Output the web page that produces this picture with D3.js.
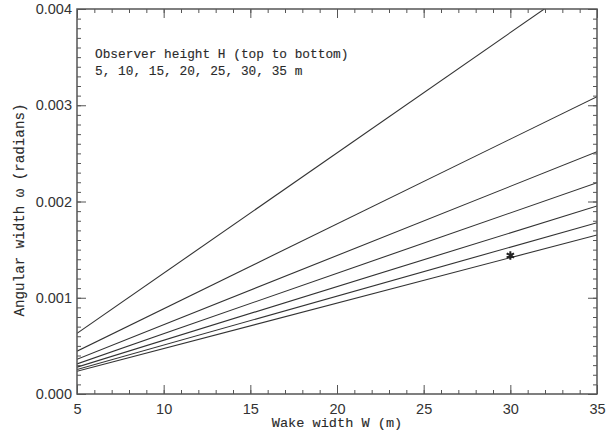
<!DOCTYPE html>
<html>
<head>
<meta charset="utf-8">
<script src="https://cdn.jsdelivr.net/npm/d3@7"></script>
<style>
  body { margin: 0; background: #fff; }
  .tick text { font-family: "Liberation Sans", Arial, sans-serif; font-size: 14.5px; fill: #333; }
  .mono { font-family: "Liberation Mono", "DejaVu Sans Mono", monospace; fill: #2a2a2a; stroke: #2a2a2a; stroke-width: 0.12px; }
</style>
</head>
<body>
<div id="chart"></div>
<script>
var heights = [5, 10, 15, 20, 25, 30, 35];
var omegaAtW5 = [0.000630, 0.000445, 0.000360, 0.000313, 0.000279, 0.000254, 0.000236];
var omegaAtW35 = [0.004380, 0.003089, 0.002517, 0.002195, 0.001953, 0.001780, 0.001652];
var wakeEnds = [5, 35];

// the single measured point
var starPoint = [{ w: 30, omega: 0.00144 }];

var xTicks = [5, 10, 15, 20, 25, 30, 35];
var yTicks = [0.000, 0.001, 0.002, 0.003, 0.004];

function main() {
    var W = 611, H = 433;
    var margin = { top: 9, right: 14, bottom: 39, left: 77 };
    var width = W - margin.left - margin.right;
    var height = H - margin.top - margin.bottom;

    var svg = d3.select("#chart").append("svg")
        .attr("width", W)
        .attr("height", H);

    var g = svg.append("g")
        .attr("transform", `translate(${margin.left}, ${margin.top})`);

    var xScale = d3.scaleLinear().domain([5, 35]).range([0, width]);
    var yScale = d3.scaleLinear().domain([0, 0.004]).range([height, 0]);

    g.append("clipPath").attr("id", "plotclip")
        .append("rect").attr("width", width).attr("height", height);

    // the lines, one per observer height
    var lineData = heights.map(function(h, i) {
        return [
            { w: wakeEnds[0], omega: omegaAtW5[i] },
            { w: wakeEnds[1], omega: omegaAtW35[i] }
        ];
    });
    var line = d3.line()
        .x(function(d) { return xScale(d.w); })
        .y(function(d) { return yScale(d.omega); });

    g.append("g").attr("clip-path", "url(#plotclip)")
        .selectAll("path")
        .data(lineData)
        .enter()
        .append("path")
        .attr("d", line)
        .attr("fill", "none")
        .attr("stroke", "#333")
        .attr("stroke-width", 1.1);

    // star marker
    g.selectAll(".star")
        .data(starPoint)
        .enter()
        .append("path")
        .attr("class", "star")
        .attr("transform", function(d) { return `translate(${xScale(d.w)}, ${yScale(d.omega)})`; })
        .attr("d", d3.symbol().type(d3.symbolAsterisk).size(50))
        .attr("fill", "none")
        .attr("stroke", "#222")
        .attr("stroke-width", 2);

    // axes: major ticks plus minor ticks, all pointing inward, mirrored on top/right
    var xMinor = d3.range(5, 35.001, 1);
    var yMinor = d3.range(0, 0.0040001, 0.0001);
    var axisColor = "#555";

    function styleAxis(sel) {
        sel.select(".domain").remove();
        sel.selectAll(".tick line").attr("stroke", axisColor);
    }

    g.append("g").attr("class", "axis")
        .attr("transform", `translate(0, ${height})`)
        .call(d3.axisBottom(xScale).tickValues(xTicks).tickSize(-9).tickPadding(10).tickFormat(d3.format("d")))
        .call(styleAxis);
    g.append("g")
        .attr("transform", `translate(0, ${height})`)
        .call(d3.axisBottom(xScale).tickValues(xMinor).tickSize(-4).tickFormat(""))
        .call(styleAxis);
    g.append("g")
        .call(d3.axisTop(xScale).tickValues(xTicks).tickSize(-9).tickFormat(""))
        .call(styleAxis);
    g.append("g")
        .call(d3.axisTop(xScale).tickValues(xMinor).tickSize(-4).tickFormat(""))
        .call(styleAxis);

    g.append("g").attr("class", "axis")
        .call(d3.axisLeft(yScale).tickValues(yTicks).tickSize(-9).tickPadding(5).tickFormat(d3.format(".3f")))
        .call(styleAxis);
    g.append("g")
        .call(d3.axisLeft(yScale).tickValues(yMinor).tickSize(-4).tickFormat(""))
        .call(styleAxis);
    g.append("g")
        .attr("transform", `translate(${width}, 0)`)
        .call(d3.axisRight(yScale).tickValues(yTicks).tickSize(-9).tickFormat(""))
        .call(styleAxis);
    g.append("g")
        .attr("transform", `translate(${width}, 0)`)
        .call(d3.axisRight(yScale).tickValues(yMinor).tickSize(-4).tickFormat(""))
        .call(styleAxis);

    // frame
    g.append("rect")
        .attr("width", width)
        .attr("height", height)
        .attr("fill", "none")
        .attr("stroke", axisColor)
        .attr("stroke-width", 1.5);

    // titles
    svg.append("text")
        .attr("class", "mono")
        .attr("x", margin.left + width / 2)
        .attr("y", 427)
        .attr("text-anchor", "middle")
        .style("font-size", "13.6px")
        .text("Wake width W (m)");

    svg.append("text")
        .attr("class", "mono")
        .attr("transform", `translate(24, 210) rotate(-90)`)
        .attr("text-anchor", "middle")
        .style("font-size", "14.2px")
        .text("Angular width \u03c9 (radians)");

    // note in the top left
    var note = svg.append("text")
        .attr("class", "mono")
        .style("font-size", "12.8px");
    note.append("tspan").attr("x", 95).attr("y", 58).text("Observer height H (top to bottom)");
    note.append("tspan").attr("x", 95).attr("y", 75).text("5, 10, 15, 20, 25, 30, 35 m");
}

main();
</script>
</body>
</html>
